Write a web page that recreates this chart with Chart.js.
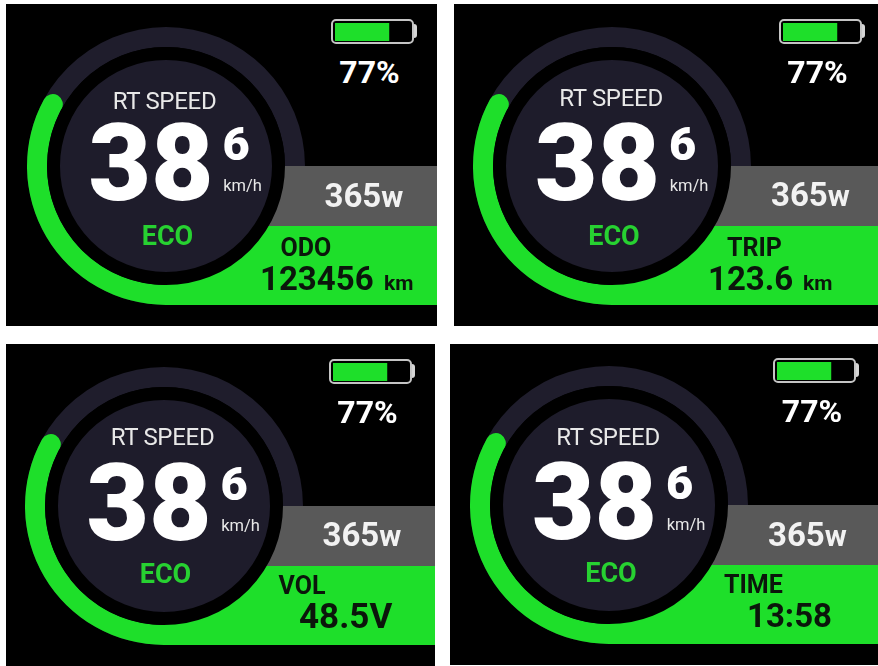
<!DOCTYPE html>
<html>
<head>
<meta charset="utf-8">
<title>Display pages</title>
<script src="https://cdn.jsdelivr.net/npm/chart.js@4"></script>
<style>
  html, body { margin: 0; padding: 0; background: #fff; overflow: hidden; }
  #page { position: relative; width: 878px; height: 666px; font-family: Roboto, sans-serif; filter: blur(0.35px); }
  .panel { position: absolute; background: #000; }
  canvas { position: absolute; }
  .disc { position: absolute; width: 212px; height: 212px; border-radius: 50%; background: #1e1c2b; border: 13px solid #000; }
  .shell { position: absolute; width: 79px; height: 21px; border: 2px solid #c4c4c4; border-radius: 5px; }
  .nub { position: absolute; width: 3px; height: 14px; background: #d5d5d5; border-radius: 0 3px 3px 0; }
  .txt { position: absolute; line-height: 0; white-space: nowrap; }
</style>
</head>
<body>
<div id="page"></div>
<script>
const pageTitles = ['ODO', 'TRIP', 'VOL', 'TIME'];
const pageReadings = ['123456', '123.6', '48.5V', '13:58'];
const pageUnits = ['km', 'km', '', ''];
const speedWhole = '38';
const speedTenth = '6';
const gaugeShare = [34.2, 65.8];
const batteryPercent = [77];
const powerWatts = [365];
const infoFill = [100];

// where each photographed screen sits on the page
const screens = [
  { left: 6, top: 4, right: 437, bottom: 326, cx: 165.5, cy: 166, battDx: 165.5, pctDx: 204, headDy: -57, ecoDy: 79, titleDy: 90, readLeft: 94.5, readDy: 124, readSize: 33, unitLeft: 218.5 },
  { left: 454, top: 4, right: 878, bottom: 326, cx: 612, cy: 165.5, battDx: 167, pctDx: 205.5, headDy: -59, ecoDy: 79.5, titleDy: 90.5, readLeft: 96, readDy: 124.5, readSize: 33, unitLeft: 191 },
  { left: 6, top: 344, right: 435, bottom: 666, cx: 163.5, cy: 505.5, battDx: 165.5, pctDx: 204, headDy: -60.5, ecoDy: 77.5, titleDy: 88.5, readLeft: 135.5, readDy: 123.5, readSize: 35, unitLeft: 0 },
  { left: 450, top: 344, right: 878, bottom: 665, cx: 609, cy: 505, battDx: 164, pctDx: 203, headDy: -60, ecoDy: 77, titleDy: 88, readLeft: 138, readDy: 122, readSize: 33, unitLeft: 0 },
];

const GREEN = '#1edf2a';
const TRACK = '#1f1d2c';
const BAND_GRAY = '#595959';
const INK = '#0b160b';
const page = document.getElementById('page');

function place(el, x, y, w, h) {
  el.style.left = x + 'px';
  el.style.top = y + 'px';
  if (w !== undefined) el.style.width = w + 'px';
  if (h !== undefined) el.style.height = h + 'px';
  page.appendChild(el);
  return el;
}

function addCanvas(x, y, w, h) {
  const c = document.createElement('canvas');
  c.width = w;
  c.height = h;
  return place(c, x, y, w, h);
}

const baseOptions = {
  responsive: false,
  animation: false,
  events: [],
  layout: { padding: 0 },
  plugins: { legend: { display: false }, tooltip: { enabled: false } },
};

function ringChart(canvas, data, colors, radii) {
  return new Chart(canvas.getContext('2d'), {
    type: 'doughnut',
    data: {
      labels: data.map((_, i) => 'part ' + i),
      datasets: [{ data: data, backgroundColor: colors, borderWidth: 0, borderRadius: radii }],
    },
    options: { ...baseOptions, rotation: 180, cutout: '85.6%' },
  });
}

function fillBar(canvas, values, max, color) {
  return new Chart(canvas.getContext('2d'), {
    type: 'bar',
    data: {
      labels: ['value'],
      datasets: [{ data: values, backgroundColor: color, borderWidth: 0, barPercentage: 1, categoryPercentage: 1 }],
    },
    options: {
      ...baseOptions,
      indexAxis: 'y',
      scales: {
        x: { display: false, min: 0, max: max },
        y: { display: false },
      },
    },
  });
}

// baseline based text, Roboto sits about .34em under the middle of a zero height line
function addText(str, x, baseline, size, weight, color, align, spacing) {
  const el = document.createElement('div');
  el.className = 'txt';
  el.textContent = str;
  el.style.fontSize = size + 'px';
  el.style.fontWeight = weight;
  el.style.color = color;
  if (spacing) el.style.letterSpacing = spacing + 'px';
  if (align === 'center') el.style.transform = 'translateX(-50%)';
  place(el, x, baseline - size * 0.34);
  return el;
}

screens.forEach((s, i) => {
  const panel = document.createElement('div');
  panel.className = 'panel';
  place(panel, s.left, s.top, s.right - s.left, s.bottom - s.top);

  const ringX = Math.round(s.cx - 139);
  const ringY = Math.round(s.cy - 139);
  ringChart(addCanvas(ringX, ringY, 278, 278), [100], [TRACK], 0);
  ringChart(addCanvas(ringX, ringY, 278, 278), gaugeShare, [GREEN, 'rgba(0,0,0,0)'],
    [{ outerStart: 0, innerStart: 0, outerEnd: 10, innerEnd: 10 }, 0]);

  const bandX = Math.round(s.cx);
  fillBar(addCanvas(bandX, ringY + 139, s.right - bandX, 60), powerWatts, powerWatts[0], BAND_GRAY);
  fillBar(addCanvas(bandX, ringY + 199, s.right - bandX, 79), infoFill, 100, GREEN);

  const disc = document.createElement('div');
  disc.className = 'disc';
  place(disc, ringX + 139 - 119, ringY + 139 - 119);

  // battery
  const battX = s.cx + s.battDx;
  const battY = s.cy - 147;
  const shell = document.createElement('div');
  shell.className = 'shell';
  place(shell, battX, battY);
  const nub = document.createElement('div');
  nub.className = 'nub';
  place(nub, battX + 83, battY + 5);
  fillBar(addCanvas(Math.round(battX + 4), battY + 4, 70, 18), batteryPercent, 100, GREEN);
  addText(batteryPercent[0] + '%', s.cx + s.pctDx, s.cy - 83, 32, 700, '#fff', 'center');

  // speed readout
  addText('RT SPEED', s.cx - 1, s.cy + s.headDy, 24, 400, '#e8e8e8', 'center', -0.3);
  addText(speedWhole, s.cx - 14.5, s.cy + 34, 108, 900, '#fff', 'center');
  addText(speedTenth, s.cx + 70.5, s.cy - 6, 47, 900, '#fff', 'center');
  addText('km/h', s.cx + 77, s.cy + 26, 16.5, 400, '#e8e8e8', 'center');
  addText('ECO', s.cx + 2, s.cy + s.ecoDy, 27, 700, '#27d131', 'center');

  // power band
  const watts = addText(powerWatts[0], s.cx + 159, s.cy + 41, 33, 700, '#f2f2f2');
  const wUnit = document.createElement('span');
  wUnit.textContent = 'w';
  wUnit.style.fontSize = '30px';
  watts.appendChild(wUnit);

  // info band
  addText(pageTitles[i], s.cx + 115, s.cy + s.titleDy, 25, 700, INK);
  addText(pageReadings[i], s.cx + s.readLeft, s.cy + s.readDy, s.readSize, 700, INK);
  if (pageUnits[i]) addText(pageUnits[i], s.cx + s.unitLeft, s.cy + s.readDy, 21, 700, INK);
});
</script>
</body>
</html>
